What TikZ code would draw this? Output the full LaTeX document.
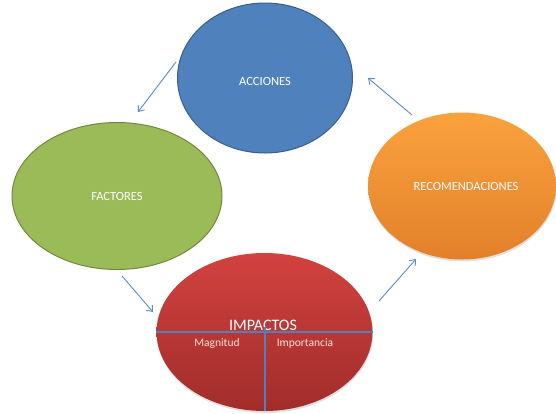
\documentclass[tikz,border=0pt]{standalone}
\usepackage{fontspec}
\setmainfont{Carlito}
\usetikzlibrary{shapes.geometric,shadows,arrows.meta}
\definecolor{accblue}{HTML}{4F81BD}
\definecolor{accblueedge}{HTML}{3A5F8B}
\definecolor{facgreen}{HTML}{9BBB59}
\definecolor{facgreenedge}{HTML}{71893F}
\definecolor{rectop}{HTML}{FAA23E}
\definecolor{recbot}{HTML}{E3802A}
\definecolor{imptop}{HTML}{D2423F}
\definecolor{impbot}{HTML}{A02D2A}
\definecolor{flowblue}{HTML}{5B8BCB}
\tikzset{
  stage/.style={ellipse, inner sep=0pt},
  flatstage/.style={stage, line width=1pt},
  softstage/.style={stage, drop shadow={opacity=0.25, shadow xshift=0.5pt, shadow yshift=-2pt}},
  stagelabel/.style={text=white, font=\fontsize{12.5}{14}\selectfont},
  flow/.style={flowblue, line width=0.9pt, -{Straight Barb[length=5pt, width=8pt, line width=0.9pt]}},
  divider/.style={accblue, line width=1.2pt},
  sublabel/.style={text=white!88!red, font=\fontsize{11.5}{13}\selectfont}
}
\begin{document}
\begin{tikzpicture}[x=1pt, y=-1pt]
  \useasboundingbox (0,0) rectangle (556,413);

  % the four stages of the cycle
  \node[flatstage, fill=accblue, draw=accblueedge, minimum width=175pt, minimum height=150pt]
    (acc) at (265,78) {};
  \node[stagelabel] (acct) at (265,81) {ACCIONES};

  \node[flatstage, fill=facgreen, draw=facgreenedge, minimum width=210pt, minimum height=147pt]
    (fac) at (117,196) {};
  \node[stagelabel] (fact) at (117,196) {FACTORES};

  \node[softstage, top color=rectop, bottom color=recbot, minimum width=188pt, minimum height=147pt]
    (rec) at (462,186) {};
  \node[stagelabel] (rect) at (466,186) {RECOMENDACIONES};

  \node[softstage, top color=imptop, bottom color=impbot, minimum width=216pt, minimum height=158pt]
    (imp) at (264.5,332) {};

  % subdivision of the impacts stage
  \node[text=white, font=\fontsize{16}{18}\selectfont] (impt) at (263,325) {IMPACTOS};
  \node[sublabel] (mag) at (217,343) {Magnitud};
  \node[sublabel] (imptc) at (305,343) {Importancia};
  \coordinate (divtop) at (265,327);
  \coordinate (divbot) at (265,411);
  \draw[divider] (imp.west) -- (imp.east);
  \draw[divider] (divtop) -- (divbot);

  % connectors between the stages
  \coordinate (a1) at (176,62);
  \coordinate (a2) at (138,112);
  \coordinate (b1) at (122,276);
  \coordinate (b2) at (153,312);
  \coordinate (c1) at (379,301);
  \coordinate (c2) at (416,259);
  \coordinate (d1) at (412,115);
  \coordinate (d2) at (368,78);
  \draw[flow] (a1) -- (a2);
  \draw[flow] (b1) -- (b2);
  \draw[flow] (c1) -- (c2);
  \draw[flow] (d1) -- (d2);
\end{tikzpicture}
\end{document}
